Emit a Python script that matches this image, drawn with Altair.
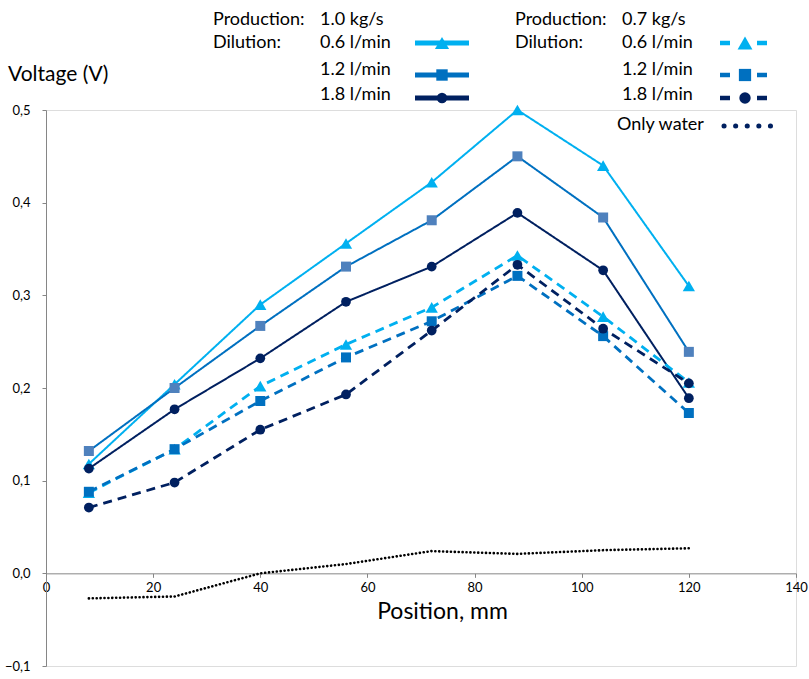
import altair as alt
import pandas as pd

# Measurement positions along the probe (mm)
positions = [8, 24, 40, 56, 72, 88, 104, 120]

# Voltage readings (V), production 1.0 kg/s
v10_06 = [0.118, 0.204, 0.290, 0.356, 0.422, 0.500, 0.440, 0.310]
v10_12 = [0.132, 0.200, 0.267, 0.331, 0.381, 0.450, 0.384, 0.239]
v10_18 = [0.113, 0.177, 0.232, 0.293, 0.331, 0.389, 0.327, 0.189]
# Voltage readings (V), production 0.7 kg/s
v07_06 = [0.087, 0.134, 0.202, 0.247, 0.287, 0.343, 0.277, 0.206]
v07_12 = [0.088, 0.134, 0.186, 0.233, 0.272, 0.321, 0.256, 0.173]
v07_18 = [0.071, 0.098, 0.155, 0.193, 0.262, 0.333, 0.264, 0.205]
# Reference run with only water
water = [-0.027, -0.025, 0.000, 0.010, 0.024, 0.021, 0.025, 0.027]

y_ticks = [-0.1, 0.0, 0.1, 0.2, 0.3, 0.4, 0.5]
x_ticks = [0, 20, 40, 60, 80, 100, 120, 140]

dilutions = ["0.6 l/min", "1.2 l/min", "1.8 l/min"]
productions = ["1.0 kg/s", "0.7 kg/s"]

LIGHT = "#00B0F0"
MID = "#0070C0"
SQ_SOLID = "#4F81BD"
NAVY = "#002060"
FONT = "Lato"

series = [
    # key, values, line colour, dash, marker shape, marker colour, marker size
    ("p10_d06", v10_06, LIGHT, [1, 0], "triangle-up", LIGHT, 150),
    ("p10_d12", v10_12, MID, [1, 0], "square", SQ_SOLID, 100),
    ("p10_d18", v10_18, NAVY, [1, 0], "circle", NAVY, 95),
    ("p07_d06", v07_06, LIGHT, [9, 6], "triangle-up", LIGHT, 150),
    ("p07_d12", v07_12, MID, [9, 6], "square", MID, 100),
    ("p07_d18", v07_18, NAVY, [9, 6], "circle", NAVY, 95),
]

rows = []
for key, vals, *_ in series:
    for p, v in zip(positions, vals):
        rows.append({"position": p, "voltage": v, "series": key})
for p, v in zip(positions, water):
    rows.append({"position": p, "voltage": v, "series": "water"})
df = pd.DataFrame(rows)

x_enc = alt.X(
    "position:Q",
    scale=alt.Scale(domain=[0, 140], nice=False),
    axis=alt.Axis(
        values=x_ticks,
        offset=-92.67,
        title="Position, mm",
        titleFont=FONT,
        titleFontSize=23,
        titleFontWeight="normal",
        titleColor="#000000",
        titleX=396,
        titleY=38,
        titleBaseline="middle",
        titleAnchor="start",
        titleAlign="center",
        labelFont=FONT,
        labelFontSize=13,
        labelColor="#000000",
        labelPadding=4,
        domainColor="#868686",
        tickColor="#868686",
        tickSize=4,
        grid=False,
        labelFlush=False,
    ),
)
y_enc = alt.Y(
    "voltage:Q",
    scale=alt.Scale(domain=[-0.1, 0.5], nice=False, zero=False),
    axis=alt.Axis(
        values=y_ticks,
        title=None,
        labelExpr="replace(format(datum.value, '.1f'), '.', ',')",
        labelFont=FONT,
        labelFontSize=13,
        labelColor="#000000",
        labelPadding=12,
        domainColor="#868686",
        tickColor="#868686",
        tickSize=4,
        grid=False,
    ),
)

base = alt.Chart(df)
layers = []
for key, vals, lcol, dash, shape, mcol, msize in series:
    sub = base.transform_filter(alt.datum.series == key)
    layers.append(
        sub.mark_line(color=lcol, strokeDash=dash, strokeWidth=2.8 if dash[1] else 2)
        .encode(x=x_enc, y=y_enc)
    )
    layers.append(
        sub.mark_point(shape=shape, color=mcol, filled=True, opacity=1, size=msize)
        .encode(x="position:Q", y="voltage:Q")
    )
layers.append(
    base.transform_filter(alt.datum.series == "water")
    .mark_line(color="#000000", strokeDash=[0.1, 3.8], strokeCap="round", strokeWidth=2.6)
    .encode(x="position:Q", y="voltage:Q")
)

# ---- hand-built legend (pixel offsets from the plot origin) ----
def label(text, x, y, size=18, font=FONT):
    return alt.Chart(pd.DataFrame({"t": [text]})).mark_text(
        align="left", baseline="middle", font=font, fontSize=size, color="#000000"
    ).encode(x=alt.value(x), y=alt.value(y), text="t:N")


def seg(x1, x2, y, color, width, dash=None, cap="butt"):
    kw = dict(color=color, strokeWidth=width, strokeCap=cap)
    if dash:
        kw["strokeDash"] = dash
    return alt.Chart(pd.DataFrame({"a": [0]})).mark_rule(**kw).encode(
        x=alt.value(x1), x2=alt.value(x2), y=alt.value(y)
    )


def sym(x, y, shape, color, size):
    return alt.Chart(pd.DataFrame({"a": [0]})).mark_point(
        shape=shape, color=color, filled=True, opacity=1, size=size
    ).encode(x=alt.value(x), y=alt.value(y))


legend = []
row_y = [-67, -40, -15]
sym_y = [-67, -35, -12]
left_cols = [(LIGHT, "triangle-up", 200), (MID, "square", 130), (NAVY, "circle", 110)]

# left block: 1.0 kg/s, solid lines
legend.append(label("Production:", 167, -90))
legend.append(label(productions[0], 274, -90))
legend.append(label("Dilution:", 167, -67))
for i, (lc, shp, sz) in enumerate(left_cols):
    legend.append(label(dilutions[i], 274, row_y[i]))
    legend.append(seg(369, 423, sym_y[i], lc, 5))
    legend.append(sym(396, sym_y[i], shp, lc, sz))

# right block: 0.7 kg/s, dashed lines
legend.append(label("Production:", 469, -90))
legend.append(label(productions[1], 576, -90))
legend.append(label("Dilution:", 469, -67))
for i, (lc, shp, sz) in enumerate(left_cols):
    legend.append(label(dilutions[i], 576, row_y[i]))
    legend.append(seg(674, 684, sym_y[i], lc, 4.5))
    legend.append(seg(711, 721, sym_y[i], lc, 4.5))
    legend.append(sym(699, sym_y[i], shp, lc, sz + 20))

legend.append(label("Only water", 571, 15))
legend.append(seg(678, 726, 16, NAVY, 5, dash=[0.1, 11.5], cap="round"))

# axis heading above the y axis
legend.append(label("Voltage (V)", -38, -35, size=21))

chart = alt.layer(*layers, *legend).properties(
    width=750,
    height=556,
    padding={"left": 46, "top": 110, "right": 13, "bottom": 13},
    autosize=alt.AutoSizeParams(type="none"),
).configure_view(stroke=None).configure(background="#ffffff")

chart.save("out.html", embed_options={"renderer": "svg", "actions": False})
